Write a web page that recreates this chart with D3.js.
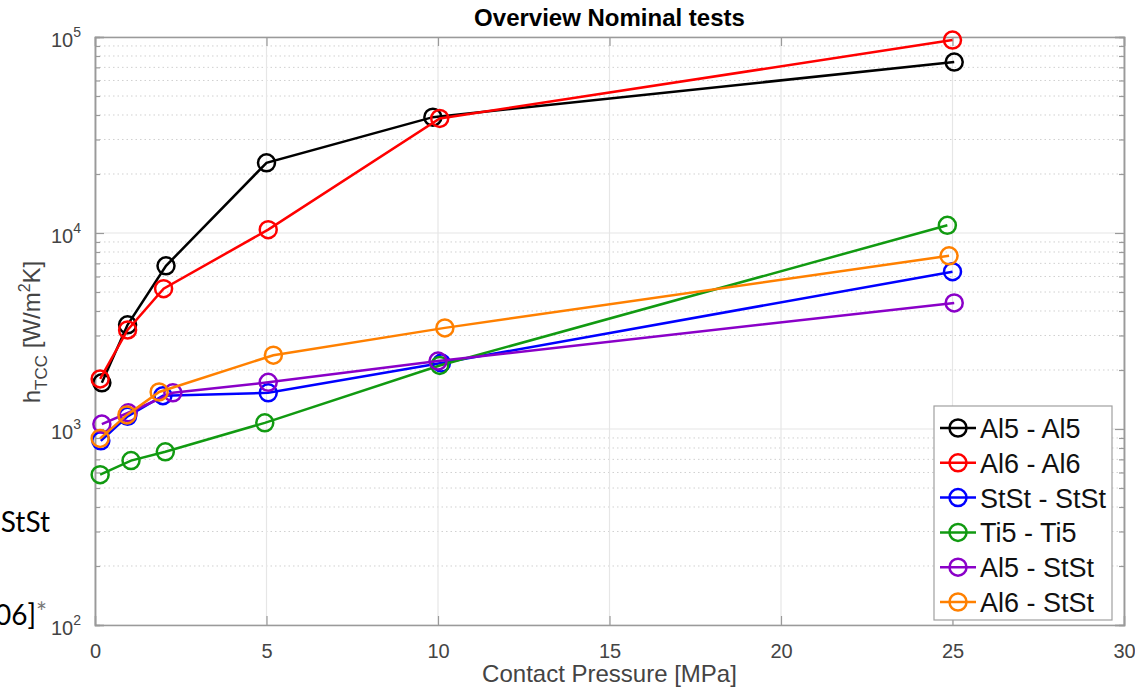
<!DOCTYPE html>
<html>
<head>
<meta charset="utf-8">
<script src="https://cdn.jsdelivr.net/npm/d3@7"></script>
<style>
  body { margin: 0; background: #fff; }
  svg { display: block; font-family: Arial, "Liberation Sans", sans-serif; }
</style>
</head>
<body>
<svg id="chart" width="1135" height="688"></svg>
<script>
// data
var seriesNames = ['Al5 - Al5', 'Al6 - Al6', 'StSt - StSt', 'Ti5 - Ti5', 'Al5 - StSt', 'Al6 - StSt'];
var seriesColors = ['#000000', '#ff0000', '#0000ff', '#119a11', '#8a00c8', '#ff8000'];

var pAl5Al5 = [0.2, 0.95, 2.07, 5.0, 9.85, 25.05];
var hAl5Al5 = [1720, 3400, 6800, 22800, 39000, 74500];

var pAl6Al6 = [0.15, 0.95, 2.0, 5.05, 10.05, 25.0];
var hAl6Al6 = [1800, 3200, 5200, 10400, 38400, 96500];

var pStSt = [0.17, 0.95, 1.98, 5.05, 10.1, 25.0];
var hStSt = [870, 1160, 1480, 1530, 2170, 6350];

var pTi5 = [0.15, 1.05, 2.05, 4.95, 10.05, 24.85];
var hTi5 = [585, 690, 765, 1075, 2110, 10950];

var pAl5StSt = [0.2, 0.97, 2.27, 5.05, 10.0, 25.05];
var hAl5StSt = [1060, 1210, 1530, 1730, 2220, 4400];

var pAl6StSt = [0.15, 0.93, 1.87, 5.2, 10.2, 24.9];
var hAl6StSt = [895, 1180, 1545, 2380, 3280, 7650];

var xTicks = [0, 5, 10, 15, 20, 25, 30];
var yDecades = [2, 3, 4, 5];

var series = [
  [pAl5Al5, hAl5Al5], [pAl6Al6, hAl6Al6], [pStSt, hStSt],
  [pTi5, hTi5], [pAl5StSt, hAl5StSt], [pAl6StSt, hAl6StSt]
].map(function(s, i) {
  return {
    name: seriesNames[i],
    color: seriesColors[i],
    points: s[0].map(function(p, j) { return { x: p, y: s[1][j] }; })
  };
});

var plotLeft = 95, plotRight = 1124, plotTop = 37, plotBottom = 625;

var svg = d3.select('#chart');

var x = d3.scaleLinear().domain([0, 30]).range([plotLeft, plotRight]);
var y = d3.scaleLog().domain([100, 100000]).range([plotBottom, plotTop]);

var majorY = yDecades.map(function(e) { return Math.pow(10, e); });
var minorY = [];
yDecades.slice(0, -1).forEach(function(e) {
  for (var k = 2; k <= 9; k++) minorY.push(k * Math.pow(10, e));
});

// grid
var grid = svg.append('g');
grid.selectAll('.minor')
  .data(minorY)
  .enter()
  .append('line')
  .attr('x1', plotLeft).attr('x2', plotRight)
  .attr('y1', function(d) { return y(d); })
  .attr('y2', function(d) { return y(d); })
  .attr('stroke', '#d0d0d0')
  .attr('stroke-width', 1)
  .attr('stroke-dasharray', '1.5,3');

grid.selectAll('.majory')
  .data(majorY)
  .enter()
  .append('line')
  .attr('x1', plotLeft).attr('x2', plotRight)
  .attr('y1', function(d) { return y(d); })
  .attr('y2', function(d) { return y(d); })
  .attr('stroke', '#e6e6e6')
  .attr('stroke-width', 1.2);

grid.selectAll('.majorx')
  .data(xTicks)
  .enter()
  .append('line')
  .attr('y1', plotTop).attr('y2', plotBottom)
  .attr('x1', function(d) { return x(d); })
  .attr('x2', function(d) { return x(d); })
  .attr('stroke', '#e6e6e6')
  .attr('stroke-width', 1.2);

// axes (ticks inside, MATLAB style)
var axisColor = '#9a9a9a';
var tickColor = '#444';

var xAxis = svg.append('g')
  .attr('transform', 'translate(0,' + plotBottom + ')')
  .call(d3.axisBottom(x).tickValues(xTicks).tickSize(-9).tickPadding(19));
var xAxisTop = svg.append('g')
  .attr('transform', 'translate(0,' + plotTop + ')')
  .call(d3.axisTop(x).tickValues(xTicks).tickSize(-9).tickFormat(''));

var yAxis = svg.append('g')
  .attr('transform', 'translate(' + plotLeft + ',0)')
  .call(d3.axisLeft(y).tickValues(majorY).tickSize(-9).tickFormat(''));
var yAxisR = svg.append('g')
  .attr('transform', 'translate(' + plotRight + ',0)')
  .call(d3.axisRight(y).tickValues(majorY).tickSize(-9).tickFormat(''));
var yMinorL = svg.append('g')
  .attr('transform', 'translate(' + plotLeft + ',0)')
  .call(d3.axisLeft(y).tickValues(minorY).tickSize(-5).tickFormat(''));
var yMinorR = svg.append('g')
  .attr('transform', 'translate(' + plotRight + ',0)')
  .call(d3.axisRight(y).tickValues(minorY).tickSize(-5).tickFormat(''));

[xAxis, xAxisTop, yAxis, yAxisR, yMinorL, yMinorR].forEach(function(a) {
  a.select('.domain').attr('stroke', axisColor).attr('stroke-width', 1.5);
  a.selectAll('.tick line').attr('stroke', axisColor).attr('stroke-width', 1.2);
});
xAxis.selectAll('.tick text')
  .attr('font-size', 20)
  .attr('fill', tickColor)
  .attr('font-family', 'Arial, "Liberation Sans", sans-serif');

// y tick labels as powers of ten
var yLab = svg.append('g');
yDecades.forEach(function(e) {
  var t = yLab.append('text')
    .attr('x', plotLeft - 14)
    .attr('y', y(Math.pow(10, e)) + 10)
    .attr('text-anchor', 'end')
    .attr('fill', tickColor)
    .attr('font-size', 20);
  t.append('tspan').text('10');
  t.append('tspan').attr('font-size', 14).attr('dy', -10).text(e);
});

// lines and markers
var line = d3.line()
  .x(function(d) { return x(d.x); })
  .y(function(d) { return y(d.y); });

var plot = svg.append('g');
series.forEach(function(s) {
  plot.append('path')
    .datum(s.points)
    .attr('d', line)
    .attr('fill', 'none')
    .attr('stroke', s.color)
    .attr('stroke-width', 2.5);
  plot.selectAll(null)
    .data(s.points)
    .enter()
    .append('circle')
    .attr('cx', function(d) { return x(d.x); })
    .attr('cy', function(d) { return y(d.y); })
    .attr('r', 8.5)
    .attr('fill', 'none')
    .attr('stroke', s.color)
    .attr('stroke-width', 2.5);
});

// title and axis labels
svg.append('text')
  .attr('x', (plotLeft + plotRight) / 2)
  .attr('y', 26)
  .attr('text-anchor', 'middle')
  .attr('font-size', 24)
  .attr('font-weight', 'bold')
  .attr('fill', '#000')
  .text('Overview Nominal tests');

svg.append('text')
  .attr('x', (plotLeft + plotRight) / 2)
  .attr('y', 682)
  .attr('text-anchor', 'middle')
  .attr('font-size', 24)
  .attr('fill', tickColor)
  .text('Contact Pressure [MPa]');

var yTitle = svg.append('text')
  .attr('transform', 'translate(40,332) rotate(-90)')
  .attr('text-anchor', 'middle')
  .attr('font-size', 24)
  .attr('fill', tickColor);
yTitle.append('tspan').text('h');
yTitle.append('tspan').attr('font-size', 17).attr('dy', 7).text('TCC');
yTitle.append('tspan').attr('dy', -7).text(' [W/m');
yTitle.append('tspan').attr('font-size', 16).attr('dy', -10).text('2');
yTitle.append('tspan').attr('dy', 10).text('K]');

// legend
var legend = svg.append('g').attr('transform', 'translate(934,406)');
legend.append('rect')
  .attr('width', 178).attr('height', 214)
  .attr('fill', '#fff')
  .attr('stroke', '#a0a0a0')
  .attr('stroke-width', 1.2);
var item = legend.selectAll('.item')
  .data(series)
  .enter()
  .append('g')
  .attr('transform', function(d, i) { return 'translate(0,' + (22 + i * 34.8) + ')'; });
item.append('line')
  .attr('x1', 6).attr('x2', 42)
  .attr('stroke', function(d) { return d.color; })
  .attr('stroke-width', 2.5);
item.append('circle')
  .attr('cx', 24).attr('r', 8.5)
  .attr('fill', 'none')
  .attr('stroke', function(d) { return d.color; })
  .attr('stroke-width', 2.5);
item.append('text')
  .attr('x', 46)
  .attr('y', 10)
  .attr('font-size', 27)
  .attr('fill', '#111')
  .text(function(d) { return d.name; });

// clipped text from the slide behind the figure
svg.append('text')
  .attr('x', 50).attr('y', 532)
  .attr('text-anchor', 'end')
  .attr('font-family', 'Lato, "Open Sans", sans-serif')
  .attr('font-size', 28)
  .attr('fill', '#000')
  .text('StSt');
svg.append('text')
  .attr('x', 36).attr('y', 625)
  .attr('text-anchor', 'end')
  .attr('font-family', 'Lato, "Open Sans", sans-serif')
  .attr('font-size', 28)
  .attr('fill', '#000')
  .text('06]');
svg.append('text')
  .attr('x', 36).attr('y', 622)
  .attr('font-family', 'Lato, "Open Sans", sans-serif')
  .attr('font-size', 26)
  .attr('fill', '#777')
  .text('*');
</script>
</body>
</html>
